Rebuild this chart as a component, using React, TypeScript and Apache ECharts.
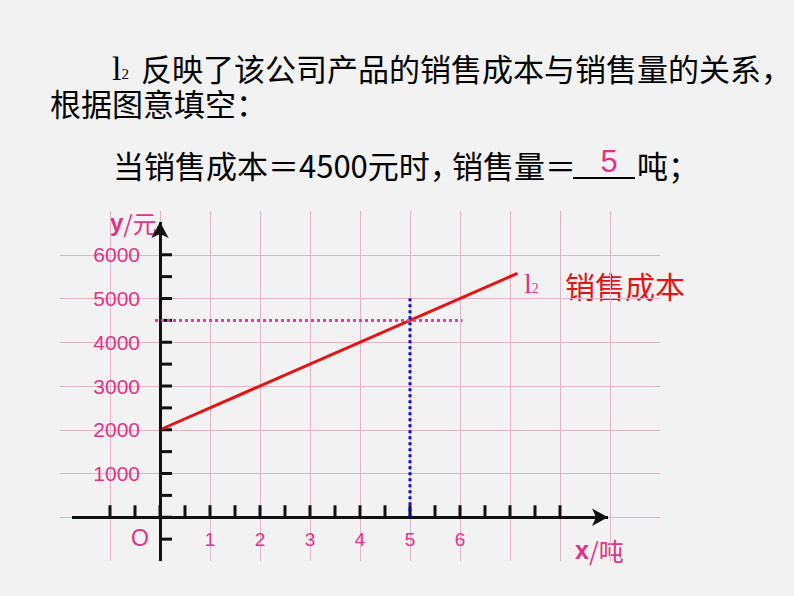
import React, { useEffect, useRef } from 'react';
import * as echarts from 'echarts';

// ---- data ----
const xTickValues = [-1, -0.5, 0, 0.5, 1, 1.5, 2, 2.5, 3, 3.5, 4, 4.5, 5, 5.5, 6, 6.5, 7, 7.5, 8];
const yTickValues = [-500, 0, 500, 1000, 1500, 2000, 2500, 3000, 3500, 4000, 4500, 5000, 5500, 6000];
const xLabelValues = [1, 2, 3, 4, 5, 6];
const yLabelValues = [1000, 2000, 3000, 4000, 5000, 6000];
const costLine = [[0, 2000], [7.15, 5575]];
const guideHorizontal = [[-0.1, 4500], [6.05, 4500]];
const guideVertical = [[5, 0], [5, 5000]];
const xAxisExtent = [[-1.76, 0], [8.96, 0]];
const yAxisExtent = [[0, -1000], [0, 6750]];

const PINK = '#de3388';
const RED = '#e01515';
const GRID = '#e0b4c6';
const CJK = '"Noto Sans CJK SC", sans-serif';
const LAT = '"Liberation Sans", Arial, sans-serif';
const SERIF = '"Liberation Serif", serif';

function txt(x: number, y: number, text: string, size: number, fill: string, family: string, extra: any = {}) {
  return {
    type: 'text',
    x,
    y,
    silent: true,
    style: {
      text,
      fill,
      fontSize: size,
      fontFamily: family,
      align: extra.align || 'left',
      textAlign: extra.align || 'left',
      verticalAlign: 'middle',
      textVerticalAlign: 'middle',
      fontWeight: extra.weight || 'normal',
      rich: extra.rich,
    },
  };
}

export default function App() {
  const ref = useRef<HTMLDivElement>(null);
  useEffect(() => {
    const chart = echarts.init(ref.current!, null, { renderer: 'svg' });
    const option: any = {
      animation: false,
      backgroundColor: '#f2f2f2',
      grid: { left: 60, top: 211, width: 600, height: 350, containLabel: false, outerBoundsMode: 'none' },
      xAxis: {
        type: 'value',
        min: -2,
        max: 10,
        interval: 1,
        axisLine: { show: false },
        axisTick: { show: false },
        axisLabel: { show: false },
        splitLine: { show: true, showMinLine: false, showMaxLine: false, lineStyle: { color: GRID, width: 1 } },
      },
      yAxis: {
        type: 'value',
        min: -1000,
        max: 7000,
        interval: 1000,
        axisLine: { show: false },
        axisTick: { show: false },
        axisLabel: { show: false },
        splitLine: { show: true, showMinLine: false, showMaxLine: false, lineStyle: { color: GRID, width: 1 } },
      },
      series: [
        {
          name: 'axes',
          type: 'line',
          data: [],
          z: 3,
          silent: true,
          markLine: {
            silent: true,
            symbol: ['none', 'arrow'],
            symbolSize: [13, 16],
            label: { show: false },
            lineStyle: { color: '#111', width: 3, type: 'solid' },
            data: [
              [{ coord: xAxisExtent[0] }, { coord: xAxisExtent[1] }],
              [{ coord: yAxisExtent[0] }, { coord: yAxisExtent[1] }],
            ],
          },
        },
        {
          name: 'xTicks',
          type: 'scatter',
          data: xTickValues.map((v) => [v, 0]),
          symbol: 'rect',
          symbolSize: [3, 12],
          symbolOffset: [0, -6],
          itemStyle: { color: '#111', opacity: 1 },
          silent: true,
          z: 3,
        },
        {
          name: 'yTicks',
          type: 'scatter',
          data: yTickValues.map((v) => [0, v]),
          symbol: 'rect',
          symbolSize: [12, 3],
          symbolOffset: [6, 0],
          itemStyle: { color: '#111', opacity: 1 },
          silent: true,
          z: 3,
        },
        {
          name: 'xLabels',
          type: 'scatter',
          data: xLabelValues.map((v) => [v, 0]),
          symbolSize: 0,
          silent: true,
          itemStyle: { opacity: 1 },
          label: {
            show: true,
            position: 'bottom',
            distance: 13,
            fontSize: 19,
            color: PINK,
            opacity: 1,
            fontFamily: LAT,
            formatter: (p: any) => String(p.value[0]),
          },
        },
        {
          name: 'yLabels',
          type: 'scatter',
          data: yLabelValues.map((v) => [0, v]),
          symbolSize: 0,
          silent: true,
          itemStyle: { opacity: 1 },
          label: {
            show: true,
            position: 'left',
            distance: 20,
            fontSize: 21,
            color: PINK,
            opacity: 1,
            fontFamily: LAT,
            formatter: (p: any) => String(p.value[1]),
          },
        },
        {
          name: '销售成本',
          type: 'line',
          data: costLine,
          symbol: 'none',
          z: 4,
          lineStyle: { color: RED, width: 3 },
        },
        {
          name: 'h',
          type: 'line',
          data: guideHorizontal,
          symbol: 'none',
          z: 5,
          lineStyle: { color: '#ec3aa0', width: 3, type: [3, 3] },
        },
        {
          name: 'v',
          type: 'line',
          data: guideVertical,
          symbol: 'none',
          z: 5,
          lineStyle: { color: '#0a0ac8', width: 3, type: [3, 3] },
        },
      ],
      graphic: [
        txt(112, 68, '{a|l}{b|2}', 34, '#000', SERIF, {
          rich: {
            a: { fontSize: 34, fontFamily: SERIF, fill: '#000', color: '#000', lineHeight: 26 },
            b: { fontSize: 15, fontFamily: SERIF, fill: '#000', color: '#000', lineHeight: 26, verticalAlign: 'bottom' },
          },
        }),
        txt(141, 67, '反映了该公司产品的销售成本与销售量的关系，', 31, '#000', CJK),
        txt(50, 102, '根据图意填空：', 31, '#000', CJK),
        txt(113, 164, '当销售成本＝4500元时，', 31, '#000', CJK),
        txt(452, 164, '销售量＝', 31, '#000', CJK),
        {
          type: 'line',
          silent: true,
          shape: { x1: 573, y1: 178, x2: 635, y2: 178 },
          style: { stroke: '#000', lineWidth: 2 },
        },
        txt(609, 161, '5', 31, PINK, LAT, { align: 'center' }),
        txt(637, 164, '吨；', 31, '#000', CJK),
        txt(110, 222, '{b|y}{n|/元}', 24, PINK, LAT, {
          rich: {
            b: { fontSize: 24, fontWeight: 'bold', fontFamily: LAT, fill: PINK, color: PINK },
            n: { fontSize: 24, fontFamily: CJK, fill: PINK, color: PINK },
          },
        }),
        txt(575, 550, '{b|x}{n|/吨}', 25, PINK, LAT, {
          rich: {
            b: { fontSize: 25, fontWeight: 'bold', fontFamily: LAT, fill: PINK, color: PINK },
            n: { fontSize: 25, fontFamily: CJK, fill: PINK, color: PINK },
          },
        }),
        txt(140, 538, 'O', 23, PINK, LAT, { align: 'center' }),
        txt(524, 283, '{a|l}{b|2}', 28, PINK, SERIF, {
          rich: {
            a: { fontSize: 28, fontFamily: SERIF, fill: PINK, color: PINK, lineHeight: 24 },
            b: { fontSize: 14, fontFamily: SERIF, fill: PINK, color: PINK, lineHeight: 24, verticalAlign: 'bottom' },
          },
        }),
        txt(565, 285, '销售成本', 30, RED, CJK),
      ],
    };
    chart.setOption(option);
    return () => chart.dispose();
  }, []);
  return (
    <div
      ref={ref}
      style={{ position: 'fixed', left: 0, top: 0, width: 794, height: 596, background: '#f2f2f2' }}
    />
  );
}
